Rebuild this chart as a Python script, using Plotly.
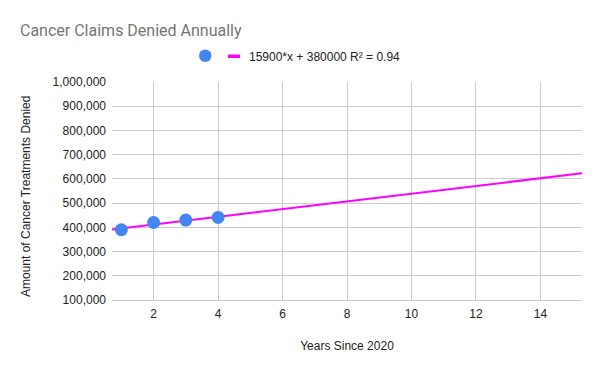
import plotly.graph_objects as go

years = [1, 2, 3, 4]
denied = [390000, 420000, 430000, 441000]
trend_slope = 15900
trend_intercept = 380000
trend_label = "15900*x + 380000 R² = 0.94"
x_range = [0.71, 15.29]
y_ticks = [100000, 200000, 300000, 400000, 500000, 600000, 700000, 800000, 900000, 1000000]
x_ticks = [2, 4, 6, 8, 10, 12, 14]

W, H = 600, 371
L, R, T, B = 112, 18, 82, 71
PW, PH = W - L - R, H - T - B


def px(xp):
    return (xp - L) / PW


def py(yp):
    return (H - B - yp) / PH


trend_x = [x_range[0], x_range[1]]
trend_y = [trend_intercept + trend_slope * v for v in trend_x]

fig = go.Figure()
fig.add_trace(go.Scatter(
    x=trend_x, y=trend_y, mode="lines", name=trend_label,
    line=dict(color="#FF00FF", width=2), showlegend=False,
))
fig.add_trace(go.Scatter(
    x=years, y=denied, mode="markers", name="",
    marker=dict(color="#4285F4", size=13), showlegend=False,
))

# manual legend (decoration)
fig.add_shape(type="circle", xref="paper", yref="paper",
              x0=px(199), x1=px(211.5), y0=py(49.5), y1=py(62),
              fillcolor="#4285F4", line=dict(width=0))
fig.add_shape(type="rect", xref="paper", yref="paper",
              x0=px(228), x1=px(240), y0=py(54.5), y1=py(58),
              fillcolor="#FF00FF", line=dict(width=0))
fig.add_annotation(text=trend_label, xref="paper", yref="paper",
                   x=px(247), y=py(56.5), xanchor="left", yanchor="middle",
                   showarrow=False, font=dict(size=12, color="#222222"))
# y axis title
fig.add_annotation(text="Amount of Cancer Treatments Denied", xref="paper", yref="paper",
                   x=px(26), y=py(197), xanchor="center", yanchor="middle", textangle=-90,
                   showarrow=False, font=dict(size=12, color="#222222"))

fig.update_layout(
    width=W, height=H,
    paper_bgcolor="white", plot_bgcolor="white",
    margin=dict(l=L, r=R, t=T, b=B, autoexpand=False),
    font=dict(family="Liberation Sans, Arial, sans-serif", size=12, color="#222222"),
    title=dict(text="Cancer Claims Denied Annually", x=20/W, xref="container", xanchor="left",
               y=1-30/H, yref="container", yanchor="middle",
               font=dict(family="Roboto, Liberation Sans, sans-serif", size=16, color="#757575")),
    showlegend=False,
)
fig.update_xaxes(range=x_range, tickvals=x_ticks, showgrid=True, gridcolor="#cccccc",
                 zeroline=False, showline=True, linecolor="#cccccc", ticks="", automargin=False,
                 ticklabelstandoff=3,
                 title=dict(text="Years Since 2020", standoff=21, font=dict(size=12)))
fig.update_yaxes(range=[100000, 1000000], tickvals=y_ticks, tickformat=",d",
                 showgrid=True, gridcolor="#cccccc", zeroline=False, ticks="", automargin=False,
                 ticklabelstandoff=5)
fig.write_html("out.html", config={"displayModeBar": False},
               post_script="document.body.style.margin='0px';document.body.style.overflow='hidden';")
